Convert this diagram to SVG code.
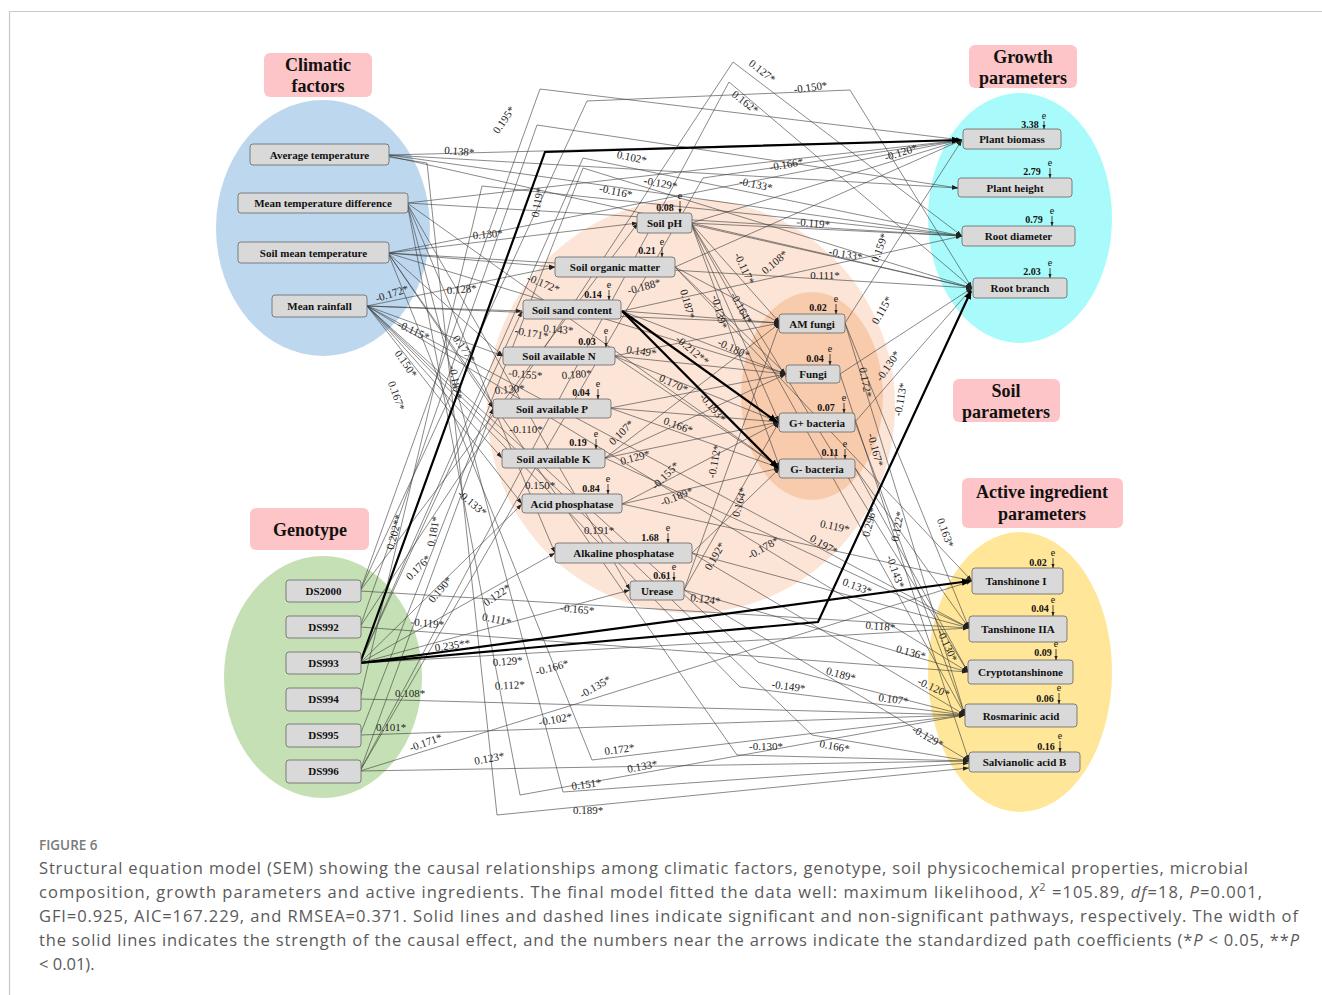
<svg xmlns="http://www.w3.org/2000/svg" width="1322" height="995" viewBox="0 0 1322 995">
<defs>
<style>
.bg{fill:#fff}
.frame{fill:none;stroke:#c8c8c8;stroke-width:1.2}
.cat{fill:#fdc5c7}
.cattx{font-family:"Liberation Serif",serif;font-weight:bold;font-size:18px;text-anchor:middle;fill:#111}
.box{fill:#d9d9d9;stroke:#666;stroke-width:0.8}
.nl{font-family:"Liberation Serif",serif;font-weight:bold;font-size:11px;text-anchor:middle;fill:#111}
.ev{font-family:"Liberation Serif",serif;font-weight:bold;font-size:10px;text-anchor:middle;fill:#111}
.et{font-family:"Liberation Serif",serif;font-size:10px;text-anchor:middle;fill:#111}
.ea{stroke:#222;stroke-width:0.8;marker-end:url(#sm)}
.pc{font-family:"Liberation Serif",serif;font-size:11px;text-anchor:middle;fill:#222}
.ln{fill:none;stroke:#3a3a3a;stroke-width:0.6;marker-end:url(#ah)}
.tk{fill:none;stroke:#000;stroke-width:2.2;marker-end:url(#ahk)}
.cap{font-family:"Open Sans","Liberation Sans",sans-serif;font-size:16.5px;fill:#5a5a5a}
.fig{font-family:"Open Sans","Liberation Sans",sans-serif;font-size:13.5px;font-weight:600;fill:#7a7a7a}
</style>
<marker id="ah" viewBox="0 0 10 10" refX="10" refY="5" markerWidth="6" markerHeight="6" markerUnits="userSpaceOnUse" orient="auto"><path d="M0,1.5 L10,5 L0,8.5 z" fill="#222"/></marker>
<marker id="ahk" viewBox="0 0 10 10" refX="9" refY="5" markerWidth="9" markerHeight="9" markerUnits="userSpaceOnUse" orient="auto"><path d="M0,1 L10,5 L0,9 z" fill="#000"/></marker>
<marker id="sm" viewBox="0 0 10 10" refX="10" refY="5" markerWidth="4" markerHeight="4" markerUnits="userSpaceOnUse" orient="auto"><path d="M0,1 L10,5 L0,9 z" fill="#222"/></marker>
</defs>
<rect class="bg" x="0" y="0" width="1322" height="995"/>
<path class="frame" d="M9.5,995 V11.5 H1322"/>

<g id="backgrounds">
<ellipse cx="323" cy="228" rx="107" ry="128" fill="#bdd7ee"/>
<ellipse cx="323" cy="677" rx="99" ry="121" fill="#c5e0b4"/>
<ellipse cx="1020" cy="218" rx="92" ry="125" fill="#a9fbfb"/>
<ellipse cx="1020" cy="672" rx="92" ry="140" fill="#ffe699"/>
<ellipse cx="691" cy="406" rx="204" ry="207" fill="#fce4d6"/>
<ellipse cx="812" cy="396" rx="71" ry="104" fill="#f8cbad"/>
</g>

<g id="category-labels">
<g id="cat-climatic"><rect class="cat" x="264" y="53" width="108" height="44" rx="6"/><text class="cattx" x="318" y="71">Climatic</text><text class="cattx" x="318" y="92">factors</text></g>
<g id="cat-growth"><rect class="cat" x="969" y="45" width="108" height="43" rx="6"/><text class="cattx" x="1023" y="63">Growth</text><text class="cattx" x="1023" y="84">parameters</text></g>
<g id="cat-soil"><rect class="cat" x="953" y="379" width="107" height="43" rx="6"/><text class="cattx" x="1006" y="397">Soil</text><text class="cattx" x="1006" y="418">parameters</text></g>
<g id="cat-active"><rect class="cat" x="962" y="478" width="161" height="50" rx="6"/><text class="cattx" x="1042" y="498">Active ingredient</text><text class="cattx" x="1042" y="520">parameters</text></g>
<g id="cat-genotype"><rect class="cat" x="250" y="508" width="119" height="42" rx="6"/><text class="cattx" x="310" y="536">Genotype</text></g>
</g>

<g id="connectors">
<polyline class="ln" points="389,155 962,140"/>
<polyline class="ln" points="389,155 958,188"/>
<polyline class="ln" points="389,155 962,236"/>
<polyline class="ln" points="389,156 972,288"/>
<polyline class="ln" points="389,157 427,163 497,815 969,768"/>
<polyline class="ln" points="407,203 962,140"/>
<polyline class="ln" points="407,203 962,236"/>
<polyline class="ln" points="407,203 555,553"/>
<polyline class="ln" points="407,203 630,590"/>
<polyline class="ln" points="407,203 520,795 965,715"/>
<polyline class="ln" points="407,203 563,792 969,763"/>
<polyline class="ln" points="407,203 780,468"/>
<polyline class="ln" points="388,253 638,223"/>
<polyline class="ln" points="388,253 555,267"/>
<polyline class="ln" points="388,253 962,140"/>
<polyline class="ln" points="388,253 972,288"/>
<polyline class="ln" points="388,253 503,356"/>
<polyline class="ln" points="388,253 493,408"/>
<polyline class="ln" points="388,253 592,760 965,715"/>
<polyline class="ln" points="388,253 737,755 969,761"/>
<polyline class="ln" points="388,253 786,374"/>
<polyline class="ln" points="367,306 555,267"/>
<polyline class="ln" points="367,306 522,311"/>
<polyline class="ln" points="367,306 503,356"/>
<polyline class="ln" points="367,306 780,323"/>
<polyline class="ln" points="367,306 502,458"/>
<polyline class="ln" points="367,306 522,504"/>
<polyline class="ln" points="367,306 758,662 965,715"/>
<polyline class="ln" points="367,306 740,687 965,715"/>
<polyline class="ln" points="367,306 812,735 969,761"/>
<polyline class="ln" points="367,306 969,628"/>
<polyline class="ln" points="367,306 968,672"/>
<polyline class="ln" points="360,591 540,89 962,140"/>
<polyline class="ln" points="360,591 587,101 850,90 972,288"/>
<polyline class="ln" points="360,591 969,628"/>
<polyline class="ln" points="360,591 638,223"/>
<polyline class="ln" points="360,627 968,672"/>
<polyline class="ln" points="360,627 733,62 962,236"/>
<polyline class="ln" points="360,627 537,125 958,188"/>
<polyline class="ln" points="360,663 522,504"/>
<polyline class="ln" points="360,663 555,553"/>
<polyline class="ln" points="360,663 630,590"/>
<polyline class="ln" points="360,663 522,311"/>
<polyline class="ln" points="360,663 969,628"/>
<polyline class="ln" points="360,663 583,158 962,236"/>
<polyline class="ln" points="360,699 965,715"/>
<polyline class="ln" points="360,699 482,186 962,236"/>
<polyline class="ln" points="360,735 965,715"/>
<polyline class="ln" points="360,735 583,168 972,288"/>
<polyline class="ln" points="360,771 969,761"/>
<polyline class="ln" points="360,771 972,581"/>
<polyline class="ln" points="360,771 729,82 972,288"/>
<polyline class="ln" points="360,771 703,178 962,140"/>
<polyline class="ln" points="360,771 493,408"/>
<polyline class="ln" points="691,223 962,140"/>
<polyline class="ln" points="691,223 962,236"/>
<polyline class="ln" points="691,223 972,288"/>
<polyline class="ln" points="691,223 780,323"/>
<polyline class="ln" points="691,223 779,422"/>
<polyline class="ln" points="691,223 780,468"/>
<polyline class="ln" points="691,223 968,672"/>
<polyline class="ln" points="691,223 965,715"/>
<polyline class="ln" points="675,267 962,140"/>
<polyline class="ln" points="675,267 780,323"/>
<polyline class="ln" points="675,267 972,581"/>
<polyline class="ln" points="675,267 786,374"/>
<polyline class="ln" points="622,311 780,323"/>
<polyline class="ln" points="622,311 786,374"/>
<polyline class="ln" points="622,311 962,236"/>
<polyline class="ln" points="614,356 786,374"/>
<polyline class="ln" points="614,356 780,323"/>
<polyline class="ln" points="614,356 779,422"/>
<polyline class="ln" points="614,356 780,468"/>
<polyline class="ln" points="610,408 779,422"/>
<polyline class="ln" points="610,408 780,468"/>
<polyline class="ln" points="610,408 786,374"/>
<polyline class="ln" points="605,458 780,323"/>
<polyline class="ln" points="605,458 779,422"/>
<polyline class="ln" points="605,458 786,374"/>
<polyline class="ln" points="605,458 969,628"/>
<polyline class="ln" points="622,504 780,468"/>
<polyline class="ln" points="622,504 972,581"/>
<polyline class="ln" points="622,504 779,422"/>
<polyline class="ln" points="692,553 965,715"/>
<polyline class="ln" points="692,553 969,628"/>
<polyline class="ln" points="692,553 780,468"/>
<polyline class="ln" points="684,590 968,672"/>
<polyline class="ln" points="684,590 779,422"/>
<polyline class="ln" points="684,590 780,323"/>
<polyline class="ln" points="684,590 969,761"/>
<polyline class="ln" points="845,323 969,628"/>
<polyline class="ln" points="845,323 965,715"/>
<polyline class="ln" points="845,323 962,140"/>
<polyline class="ln" points="840,374 972,288"/>
<polyline class="ln" points="840,374 969,761"/>
<polyline class="ln" points="855,422 972,288"/>
<polyline class="ln" points="855,422 965,715"/>
<polyline class="ln" points="855,468 968,672"/>
<polyline class="ln" points="855,468 969,628"/>
<polyline class="tk" points="360,663 545,152 960,140"/>
<polyline class="tk" points="360,663 970,581"/>
<polyline class="tk" points="360,663 818,622 971,291"/>
<polyline class="tk" points="622,311 777,422"/>
<polyline class="tk" points="622,311 778,468"/>
</g>

<g id="coefficients">
<text class="pc" transform="translate(507,122) rotate(-55)">0.195*</text>
<text class="pc" transform="translate(760,74) rotate(38)">0.127*</text>
<text class="pc" transform="translate(743,105) rotate(38)">0.162*</text>
<text class="pc" transform="translate(811,91) rotate(-8)">-0.150*</text>
<text class="pc" transform="translate(459,155) rotate(5)">0.138*</text>
<text class="pc" transform="translate(631,161) rotate(12)">0.102*</text>
<text class="pc" transform="translate(787,168) rotate(-10)">-0.166*</text>
<text class="pc" transform="translate(902,156) rotate(-18)">-0.120*</text>
<text class="pc" transform="translate(660,187) rotate(10)">-0.129*</text>
<text class="pc" transform="translate(755,188) rotate(12)">-0.133*</text>
<text class="pc" transform="translate(615,195) rotate(12)">-0.116*</text>
<text class="pc" transform="translate(541,203) rotate(-80)">0.119*</text>
<text class="pc" transform="translate(488,238) rotate(-5)">0.130*</text>
<text class="pc" transform="translate(813,227) rotate(5)">-0.119*</text>
<text class="pc" transform="translate(845,258) rotate(10)">-0.133*</text>
<text class="pc" transform="translate(883,249) rotate(-70)">0.159*</text>
<text class="pc" transform="translate(825,279)">0.111*</text>
<text class="pc" transform="translate(777,265) rotate(-40)">0.108*</text>
<text class="pc" transform="translate(741,270) rotate(65)">-0.117*</text>
<text class="pc" transform="translate(542,287) rotate(22)">-0.172*</text>
<text class="pc" transform="translate(645,290) rotate(-15)">-0.188*</text>
<text class="pc" transform="translate(684,305) rotate(75)">0.187*</text>
<text class="pc" transform="translate(716,313) rotate(75)">-0.139*</text>
<text class="pc" transform="translate(738,310) rotate(62)">-0.164*</text>
<text class="pc" transform="translate(393,297) rotate(-18)">-0.172*</text>
<text class="pc" transform="translate(462,293) rotate(-5)">0.128*</text>
<text class="pc" transform="translate(412,334) rotate(25)">-0.115*</text>
<text class="pc" transform="translate(461,351) rotate(55)">0.177*</text>
<text class="pc" transform="translate(452,383) rotate(80)">-0.187*</text>
<text class="pc" transform="translate(403,366) rotate(55)">0.150*</text>
<text class="pc" transform="translate(393,397) rotate(70)">0.167*</text>
<text class="pc" transform="translate(470,506) rotate(40)">-0.133*</text>
<text class="pc" transform="translate(398,533) rotate(-75)">0.202**</text>
<text class="pc" transform="translate(437,532) rotate(-80)">0.181*</text>
<text class="pc" transform="translate(421,570) rotate(-45)">0.176*</text>
<text class="pc" transform="translate(443,592) rotate(-50)">0.190*</text>
<text class="pc" transform="translate(499,598) rotate(-35)">0.122*</text>
<text class="pc" transform="translate(496,623) rotate(12)">0.111*</text>
<text class="pc" transform="translate(427,627) rotate(5)">-0.119*</text>
<text class="pc" transform="translate(453,649) rotate(-8)">0.235**</text>
<text class="pc" transform="translate(508,665) rotate(-5)">0.129*</text>
<text class="pc" transform="translate(510,689) rotate(-3)">0.112*</text>
<text class="pc" transform="translate(410,697)">0.108*</text>
<text class="pc" transform="translate(391,731)">0.101*</text>
<text class="pc" transform="translate(427,746) rotate(-20)">-0.171*</text>
<text class="pc" transform="translate(490,762) rotate(-10)">0.123*</text>
<text class="pc" transform="translate(577,613) rotate(5)">-0.165*</text>
<text class="pc" transform="translate(705,603) rotate(8)">0.124*</text>
<text class="pc" transform="translate(553,671) rotate(-15)">-0.166*</text>
<text class="pc" transform="translate(597,690) rotate(-30)">-0.135*</text>
<text class="pc" transform="translate(556,723) rotate(-10)">-0.102*</text>
<text class="pc" transform="translate(620,753) rotate(-8)">0.172*</text>
<text class="pc" transform="translate(643,770) rotate(-10)">0.133*</text>
<text class="pc" transform="translate(587,788) rotate(-8)">0.151*</text>
<text class="pc" transform="translate(588,814)">0.189*</text>
<text class="pc" transform="translate(766,750)">-0.130*</text>
<text class="pc" transform="translate(834,750) rotate(10)">0.166*</text>
<text class="pc" transform="translate(788,690) rotate(8)">-0.149*</text>
<text class="pc" transform="translate(840,678) rotate(15)">0.189*</text>
<text class="pc" transform="translate(893,703) rotate(8)">0.107*</text>
<text class="pc" transform="translate(932,691) rotate(25)">-0.120*</text>
<text class="pc" transform="translate(926,740) rotate(30)">-0.129*</text>
<text class="pc" transform="translate(910,656) rotate(15)">0.136*</text>
<text class="pc" transform="translate(880,630) rotate(5)">0.118*</text>
<text class="pc" transform="translate(944,647) rotate(65)">-0.130*</text>
<text class="pc" transform="translate(856,590) rotate(20)">0.133*</text>
<text class="pc" transform="translate(892,573) rotate(70)">-0.143*</text>
<text class="pc" transform="translate(765,551) rotate(-30)">-0.178*</text>
<text class="pc" transform="translate(822,548) rotate(30)">0.197*</text>
<text class="pc" transform="translate(834,530) rotate(12)">0.119*</text>
<text class="pc" transform="translate(718,558) rotate(-60)">0.192*</text>
<text class="pc" transform="translate(743,503) rotate(-75)">0.164*</text>
<text class="pc" transform="translate(718,462) rotate(-80)">-0.112*</text>
<text class="pc" transform="translate(873,523) rotate(-75)">0.296*</text>
<text class="pc" transform="translate(901,527) rotate(-80)">0.122*</text>
<text class="pc" transform="translate(942,534) rotate(70)">0.163*</text>
<text class="pc" transform="translate(872,451) rotate(75)">-0.167*</text>
<text class="pc" transform="translate(862,383) rotate(80)">0.172*</text>
<text class="pc" transform="translate(891,368) rotate(-55)">-0.130*</text>
<text class="pc" transform="translate(904,400) rotate(-80)">-0.113*</text>
<text class="pc" transform="translate(885,312) rotate(-60)">0.115*</text>
<text class="pc" transform="translate(732,352) rotate(25)">-0.180*</text>
<text class="pc" transform="translate(690,353) rotate(40)">-0.212**</text>
<text class="pc" transform="translate(641,355) rotate(8)">0.149*</text>
<text class="pc" transform="translate(531,337) rotate(10)">-0.171*</text>
<text class="pc" transform="translate(558,333) rotate(5)">0.143*</text>
<text class="pc" transform="translate(525,378) rotate(5)">-0.155*</text>
<text class="pc" transform="translate(577,378) rotate(-5)">0.180*</text>
<text class="pc" transform="translate(510,393) rotate(-5)">0.130*</text>
<text class="pc" transform="translate(672,387) rotate(25)">0.170*</text>
<text class="pc" transform="translate(710,410) rotate(50)">-0.193*</text>
<text class="pc" transform="translate(526,433)">-0.110*</text>
<text class="pc" transform="translate(677,429) rotate(20)">0.166*</text>
<text class="pc" transform="translate(624,435) rotate(-45)">0.107*</text>
<text class="pc" transform="translate(636,461) rotate(-15)">0.129*</text>
<text class="pc" transform="translate(540,489)">0.150*</text>
<text class="pc" transform="translate(668,478) rotate(-45)">-0.155*</text>
<text class="pc" transform="translate(678,500) rotate(-22)">-0.189*</text>
<text class="pc" transform="translate(599,534)">0.191*</text>
</g>

<g id="node-average-temperature"><rect class="box" x="250" y="144" width="139" height="21" rx="3"/><text class="nl" x="319.5" y="158.5">Average temperature</text></g>
<g id="node-mean-temperature-difference"><rect class="box" x="238" y="193" width="170" height="20" rx="3"/><text class="nl" x="323" y="207">Mean temperature difference</text></g>
<g id="node-soil-mean-temperature"><rect class="box" x="238" y="242" width="151" height="21" rx="3"/><text class="nl" x="313.5" y="256.5">Soil mean temperature</text></g>
<g id="node-mean-rainfall"><rect class="box" x="272" y="295" width="95" height="22" rx="3"/><text class="nl" x="319.5" y="310">Mean rainfall</text></g>

<g id="node-ds2000"><rect class="box" x="286" y="580" width="75" height="22" rx="3"/><text class="nl" x="323.5" y="595">DS2000</text></g>
<g id="node-ds992"><rect class="box" x="286" y="616" width="75" height="22" rx="3"/><text class="nl" x="323.5" y="631">DS992</text></g>
<g id="node-ds993"><rect class="box" x="286" y="652" width="75" height="22" rx="3"/><text class="nl" x="323.5" y="667">DS993</text></g>
<g id="node-ds994"><rect class="box" x="286" y="688" width="75" height="23" rx="3"/><text class="nl" x="323.5" y="703">DS994</text></g>
<g id="node-ds995"><rect class="box" x="286" y="724" width="75" height="23" rx="3"/><text class="nl" x="323.5" y="739">DS995</text></g>
<g id="node-ds996"><rect class="box" x="286" y="760" width="75" height="23" rx="3"/><text class="nl" x="323.5" y="775">DS996</text></g>

<g id="node-plant-biomass"><rect class="box" x="963" y="129" width="98" height="20" rx="3"/><text class="nl" x="1012" y="143">Plant biomass</text><text class="ev" x="1030" y="128">3.38</text><text class="et" x="1044" y="119">e</text><line class="ea" x1="1044" y1="121" x2="1044" y2="129"/></g>
<g id="node-plant-height"><rect class="box" x="958" y="178" width="114" height="19" rx="3"/><text class="nl" x="1015" y="191.5">Plant height</text><text class="ev" x="1032" y="175">2.79</text><text class="et" x="1050" y="166">e</text><line class="ea" x1="1050" y1="168" x2="1050" y2="178"/></g>
<g id="node-root-diameter"><rect class="box" x="962" y="226" width="113" height="20" rx="3"/><text class="nl" x="1018.5" y="240">Root diameter</text><text class="ev" x="1034" y="223">0.79</text><text class="et" x="1052" y="214">e</text><line class="ea" x1="1052" y1="216" x2="1052" y2="226"/></g>
<g id="node-root-branch"><rect class="box" x="973" y="278" width="94" height="20" rx="3"/><text class="nl" x="1020" y="292">Root branch</text><text class="ev" x="1032" y="275">2.03</text><text class="et" x="1050" y="266">e</text><line class="ea" x1="1050" y1="268" x2="1050" y2="278"/></g>

<g id="node-soil-ph"><rect class="box" x="637" y="213" width="55" height="20" rx="3"/><text class="nl" x="664.5" y="227">Soil pH</text><text class="ev" x="665" y="211">0.08</text><text class="et" x="680" y="199">e</text><line class="ea" x1="680" y1="201" x2="680" y2="213"/></g>
<g id="node-soil-organic-matter"><rect class="box" x="555" y="257" width="120" height="20" rx="3"/><text class="nl" x="615" y="271">Soil organic matter</text><text class="ev" x="647" y="254">0.21</text><text class="et" x="662" y="245">e</text><line class="ea" x1="662" y1="247" x2="662" y2="257"/></g>
<g id="node-soil-sand-content"><rect class="box" x="523" y="300" width="98" height="19" rx="3"/><text class="nl" x="572" y="313.5">Soil sand content</text><text class="ev" x="593" y="298">0.14</text><text class="et" x="609" y="288">e</text><line class="ea" x1="609" y1="290" x2="609" y2="300"/></g>
<g id="node-soil-available-n"><rect class="box" x="503" y="347" width="112" height="18" rx="3"/><text class="nl" x="559" y="360">Soil available N</text><text class="ev" x="587" y="345">0.03</text><text class="et" x="606" y="334">e</text><line class="ea" x1="606" y1="336" x2="606" y2="347"/></g>
<g id="node-soil-available-p"><rect class="box" x="493" y="399" width="118" height="19" rx="3"/><text class="nl" x="552" y="412.5">Soil available P</text><text class="ev" x="581" y="396">0.04</text><text class="et" x="598" y="387">e</text><line class="ea" x1="598" y1="389" x2="598" y2="399"/></g>
<g id="node-soil-available-k"><rect class="box" x="502" y="449" width="103" height="19" rx="3"/><text class="nl" x="553.5" y="462.5">Soil available K</text><text class="ev" x="578" y="446">0.19</text><text class="et" x="596" y="437">e</text><line class="ea" x1="596" y1="439" x2="596" y2="449"/></g>
<g id="node-acid-phosphatase"><rect class="box" x="522" y="494" width="100" height="19" rx="3"/><text class="nl" x="572" y="507.5">Acid phosphatase</text><text class="ev" x="591" y="492">0.84</text><text class="et" x="608" y="482">e</text><line class="ea" x1="608" y1="484" x2="608" y2="494"/></g>
<g id="node-alkaline-phosphatase"><rect class="box" x="555" y="543" width="137" height="20" rx="3"/><text class="nl" x="623.5" y="557">Alkaline phosphatase</text><text class="ev" x="650" y="541">1.68</text><text class="et" x="668" y="531">e</text><line class="ea" x1="668" y1="533" x2="668" y2="543"/></g>
<g id="node-urease"><rect class="box" x="630" y="581" width="54" height="19" rx="3"/><text class="nl" x="657" y="594.5">Urease</text><text class="ev" x="662" y="579">0.61</text><text class="et" x="674" y="570">e</text><line class="ea" x1="674" y1="572" x2="674" y2="581"/></g>

<g id="node-am-fungi"><rect class="box" x="779" y="314" width="66" height="19" rx="3"/><text class="nl" x="812" y="327.5">AM fungi</text><text class="ev" x="818" y="311">0.02</text><text class="et" x="836" y="302">e</text><line class="ea" x1="836" y1="304" x2="836" y2="314"/></g>
<g id="node-fungi"><rect class="box" x="786" y="365" width="54" height="18" rx="3"/><text class="nl" x="813" y="378">Fungi</text><text class="ev" x="815" y="362">0.04</text><text class="et" x="830" y="352">e</text><line class="ea" x1="830" y1="354" x2="830" y2="365"/></g>
<g id="node-g-plus-bacteria"><rect class="box" x="779" y="413" width="76" height="19" rx="3"/><text class="nl" x="817" y="426.5">G+ bacteria</text><text class="ev" x="826" y="411">0.07</text><text class="et" x="844" y="401">e</text><line class="ea" x1="844" y1="403" x2="844" y2="413"/></g>
<g id="node-g-minus-bacteria"><rect class="box" x="779" y="459" width="76" height="19" rx="3"/><text class="nl" x="817" y="472.5">G- bacteria</text><text class="ev" x="830" y="456">0.11</text><text class="et" x="845" y="447">e</text><line class="ea" x1="845" y1="449" x2="845" y2="459"/></g>

<g id="node-tanshinone-i"><rect class="box" x="972" y="568" width="91" height="26" rx="3"/><text class="nl" x="1016" y="585">Tanshinone I</text><text class="ev" x="1038" y="566">0.02</text><text class="et" x="1053" y="556">e</text><line class="ea" x1="1053" y1="558" x2="1053" y2="568"/></g>
<g id="node-tanshinone-iia"><rect class="box" x="969" y="616" width="98" height="26" rx="3"/><text class="nl" x="1018" y="633">Tanshinone IIA</text><text class="ev" x="1040" y="612">0.04</text><text class="et" x="1053" y="603">e</text><line class="ea" x1="1053" y1="605" x2="1053" y2="616"/></g>
<g id="node-cryptotanshinone"><rect class="box" x="968" y="660" width="105" height="24" rx="3"/><text class="nl" x="1020.5" y="676">Cryptotanshinone</text><text class="ev" x="1043" y="656">0.09</text><text class="et" x="1056" y="647">e</text><line class="ea" x1="1056" y1="649" x2="1056" y2="660"/></g>
<g id="node-rosmarinic-acid"><rect class="box" x="965" y="704" width="112" height="23" rx="3"/><text class="nl" x="1021" y="719.5">Rosmarinic acid</text><text class="ev" x="1045" y="702">0.06</text><text class="et" x="1059" y="691">e</text><line class="ea" x1="1059" y1="693" x2="1059" y2="704"/></g>
<g id="node-salvianolic-acid-b"><rect class="box" x="969" y="752" width="111" height="20" rx="3"/><text class="nl" x="1024.5" y="766">Salvianolic acid B</text><text class="ev" x="1046" y="750">0.16</text><text class="et" x="1060" y="739">e</text><line class="ea" x1="1060" y1="741" x2="1060" y2="752"/></g>

<g id="caption">
<text class="fig" x="39" y="850">FIGURE 6</text>
<text class="cap" x="39" y="874" textLength="1209" lengthAdjust="spacing">Structural equation model (SEM) showing the causal relationships among climatic factors, genotype, soil physicochemical properties, microbial</text>
<text class="cap" x="39" y="898" textLength="1223" lengthAdjust="spacing">composition, growth parameters and active ingredients. The final model fitted the data well: maximum likelihood, <tspan font-style="italic">X</tspan><tspan font-size="11" dy="-7">2</tspan><tspan dy="7"> =105.89, </tspan><tspan font-style="italic">df</tspan>=18, <tspan font-style="italic">P</tspan>=0.001,</text>
<text class="cap" x="39" y="922" textLength="1259" lengthAdjust="spacing">GFI=0.925, AIC=167.229, and RMSEA=0.371. Solid lines and dashed lines indicate significant and non-significant pathways, respectively. The width of</text>
<text class="cap" x="39" y="946" textLength="1260" lengthAdjust="spacing">the solid lines indicates the strength of the causal effect, and the numbers near the arrows indicate the standardized path coefficients (*<tspan font-style="italic">P</tspan> &lt; 0.05, **<tspan font-style="italic">P</tspan></text>
<text class="cap" x="39" y="970">&lt; 0.01).</text>
</g>
</svg>
